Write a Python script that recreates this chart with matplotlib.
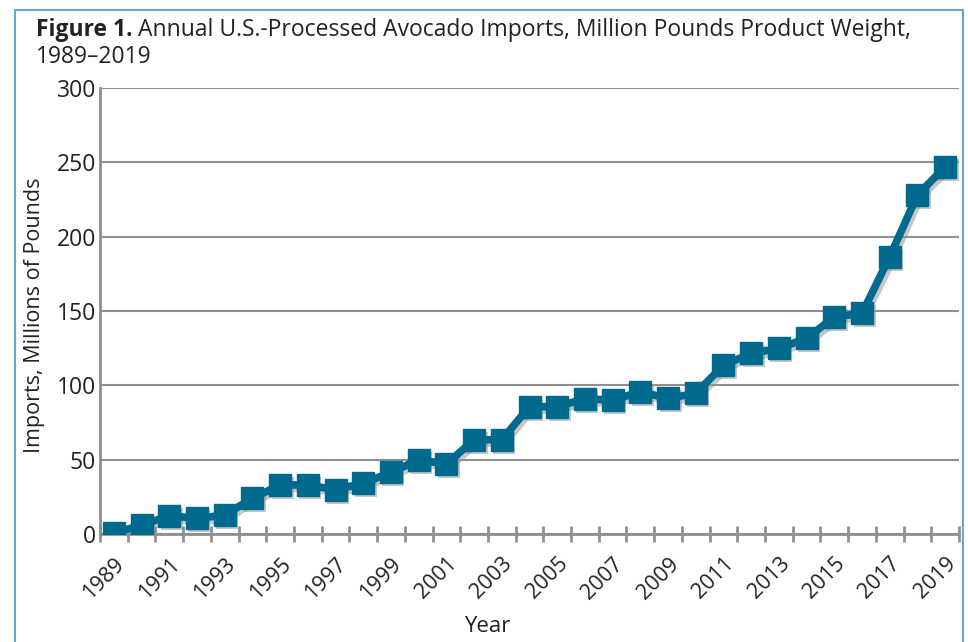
import matplotlib
matplotlib.use("Agg")
import matplotlib.pyplot as plt
from matplotlib.patches import Rectangle
from matplotlib.ticker import FixedLocator
from matplotlib.transforms import ScaledTranslation

years = list(range(1989, 2020))
imports = [0.5, 6, 12.3, 10.5, 12.7, 24, 33, 33, 29.7, 34.2, 41.4, 50, 47, 63.4, 63.4,
           85.7, 85.6, 91, 90, 95.7, 91.2, 94.6, 113.6, 121.5, 124.9, 131.6, 146, 148.4,
           186.5, 228, 247]
yticks = [0, 50, 100, 150, 200, 250, 300]
xlabels = list(range(1989, 2020, 2))

plt.rcParams['font.family'] = ['Open Sans', 'DejaVu Sans']

fig = plt.figure(figsize=(9.68, 6.42), dpi=100)
ax = fig.add_axes([100/968, 1-534/642, 859/968, 446/642])

line_color = '#006A8E'
grid_color = '#8f8f8f'
text_color = '#222222'

# soft shadow
shadow_tr = ax.transData + ScaledTranslation(2.5/100, -3/100, fig.dpi_scale_trans)
ax.plot(years, imports, color='#9a9a9a', alpha=0.55, lw=6, marker='s', ms=16.5, mew=0,
        solid_joinstyle='miter', transform=shadow_tr, zorder=2.8)

ax.plot(years, imports, color=line_color, lw=5.5, marker='s', ms=15.5,
        solid_joinstyle='miter', zorder=3)

ax.set_xlim(1988.5, 2019.5)
ax.set_ylim(0, 300)
ax.set_yticks(yticks)
ax.set_yticklabels([str(v) for v in yticks])
ax.yaxis.grid(True, color=grid_color, lw=1.5)
ax.set_axisbelow(True)

ax.xaxis.set_major_locator(FixedLocator(xlabels))
ax.set_xticklabels([str(v) for v in xlabels], rotation=45, ha='right', va='top',
                   rotation_mode='anchor')
for lbl in ax.get_xticklabels():
    lbl.set_transform(lbl.get_transform() + ScaledTranslation(8/100, 0, fig.dpi_scale_trans))
ax.xaxis.set_minor_locator(FixedLocator([y - 0.5 for y in years] + [2019.5]))
ax.tick_params(axis='x', which='major', length=0, pad=14, labelsize=15.5, labelcolor=text_color)
ax.tick_params(axis='x', which='minor', length=11, width=2, direction='inout', color=grid_color)
ax.tick_params(axis='y', length=0, pad=3, labelsize=16.5, labelcolor=text_color)

for s in ['top', 'right']:
    ax.spines[s].set_visible(False)
for s in ['left', 'bottom']:
    ax.spines[s].set_color(grid_color)
    ax.spines[s].set_linewidth(2)
    ax.spines[s].set_zorder(2.5)

fig.text(35/968, 1-315/642, 'Imports, Millions of Pounds', rotation=90,
         ha='center', va='center', fontsize=15.5, color=text_color)
fig.text(487/968, 1-626/642, 'Year', ha='center', va='center', fontsize=16, color=text_color)

t1 = fig.text(36/968, 1-30/642, 'Figure 1.', ha='left', va='center', fontsize=16.5,
              fontweight='bold', color=text_color)
fig.canvas.draw()
bb = t1.get_window_extent()
fig.text(bb.x1/968 + 5/968, 1-30/642, 'Annual U.S.-Processed Avocado Imports, Million Pounds Product Weight,',
         ha='left', va='center', fontsize=16.5, color=text_color)
fig.text(36/968, 1-57/642, '1989\u20132019', ha='left', va='center', fontsize=16.5, color=text_color)

fig.patches.append(Rectangle((15/968, -0.05), 948/968, 1.05 - 10/642, transform=fig.transFigure,
                             fill=False, edgecolor='#6aa6cc', lw=1.5))

fig.savefig('out.png', dpi=100)
